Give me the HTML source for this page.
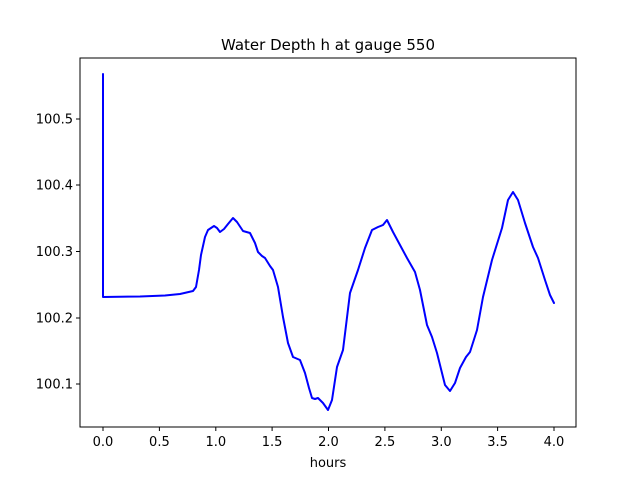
<!DOCTYPE html>
<html><head><style>body{margin:0;background:#fff}svg{display:block}text{font-family:"DejaVu Sans","Liberation Sans",sans-serif;font-size:13px;fill:#000}</style></head>
<body>
<svg width="640" height="480" viewBox="0 0 640 480">
<rect x="80" y="58" width="496" height="369" fill="#fff" stroke="#000" stroke-width="1"/>
<text x="328" y="50" text-anchor="middle" style="font-size:15px">Water Depth h at gauge 550</text>
<g stroke="#000" stroke-width="1">
<line x1="103" y1="427" x2="103" y2="431"/><line x1="159.4" y1="427" x2="159.4" y2="431"/><line x1="215.8" y1="427" x2="215.8" y2="431"/><line x1="272.1" y1="427" x2="272.1" y2="431"/><line x1="328.5" y1="427" x2="328.5" y2="431"/><line x1="384.9" y1="427" x2="384.9" y2="431"/><line x1="441.3" y1="427" x2="441.3" y2="431"/><line x1="497.6" y1="427" x2="497.6" y2="431"/><line x1="554" y1="427" x2="554" y2="431"/>
<line x1="76" y1="384" x2="80" y2="384"/><line x1="76" y1="318" x2="80" y2="318"/><line x1="76" y1="251.5" x2="80" y2="251.5"/><line x1="76" y1="185" x2="80" y2="185"/><line x1="76" y1="119" x2="80" y2="119"/>
</g>
<g text-anchor="middle">
<text x="103" y="446">0.0</text><text x="159.4" y="446">0.5</text><text x="215.8" y="446">1.0</text><text x="272.1" y="446">1.5</text><text x="328.5" y="446">2.0</text><text x="384.9" y="446">2.5</text><text x="441.3" y="446">3.0</text><text x="497.6" y="446">3.5</text><text x="554" y="446">4.0</text>
<text x="328" y="467">hours</text>
</g>
<g text-anchor="end">
<text x="73" y="388.5">100.1</text><text x="73" y="322.5">100.2</text><text x="73" y="256">100.3</text><text x="73" y="189.5">100.4</text><text x="73" y="123.5">100.5</text>
</g>
<polyline fill="none" stroke="#0000ff" stroke-width="2" stroke-linejoin="round" stroke-linecap="round" points="103,74 103,297 140,296.5 165,295.5 180,294 193,291 196,287 199,270 201,255 205,237 208,230 214,226 217,228 220,232 224,229 228,224 233,218 237,222 243,231 250,233 255,243 258,252 262,256 265,258 270,266 273,270 278,287 283,317 288,343 293,357 300,360 305,373 309,388 312,398 315,399 318,398 323,403 328,410 332,400 337,367 343,350 350,293 358,270 365,248 372,230 378,227 383,225 387,220 393,232 400,245 407,258 415,272 420,290 427,325 432,337 437,353 445,385 450,391 455,383 460,368 466,357 470,352 477,330 483,297 492,260 502,228 508,200 513,192 518,200 525,223 533,247 538,258 545,280 550,295 554,303"/>
</svg>
</body></html>
